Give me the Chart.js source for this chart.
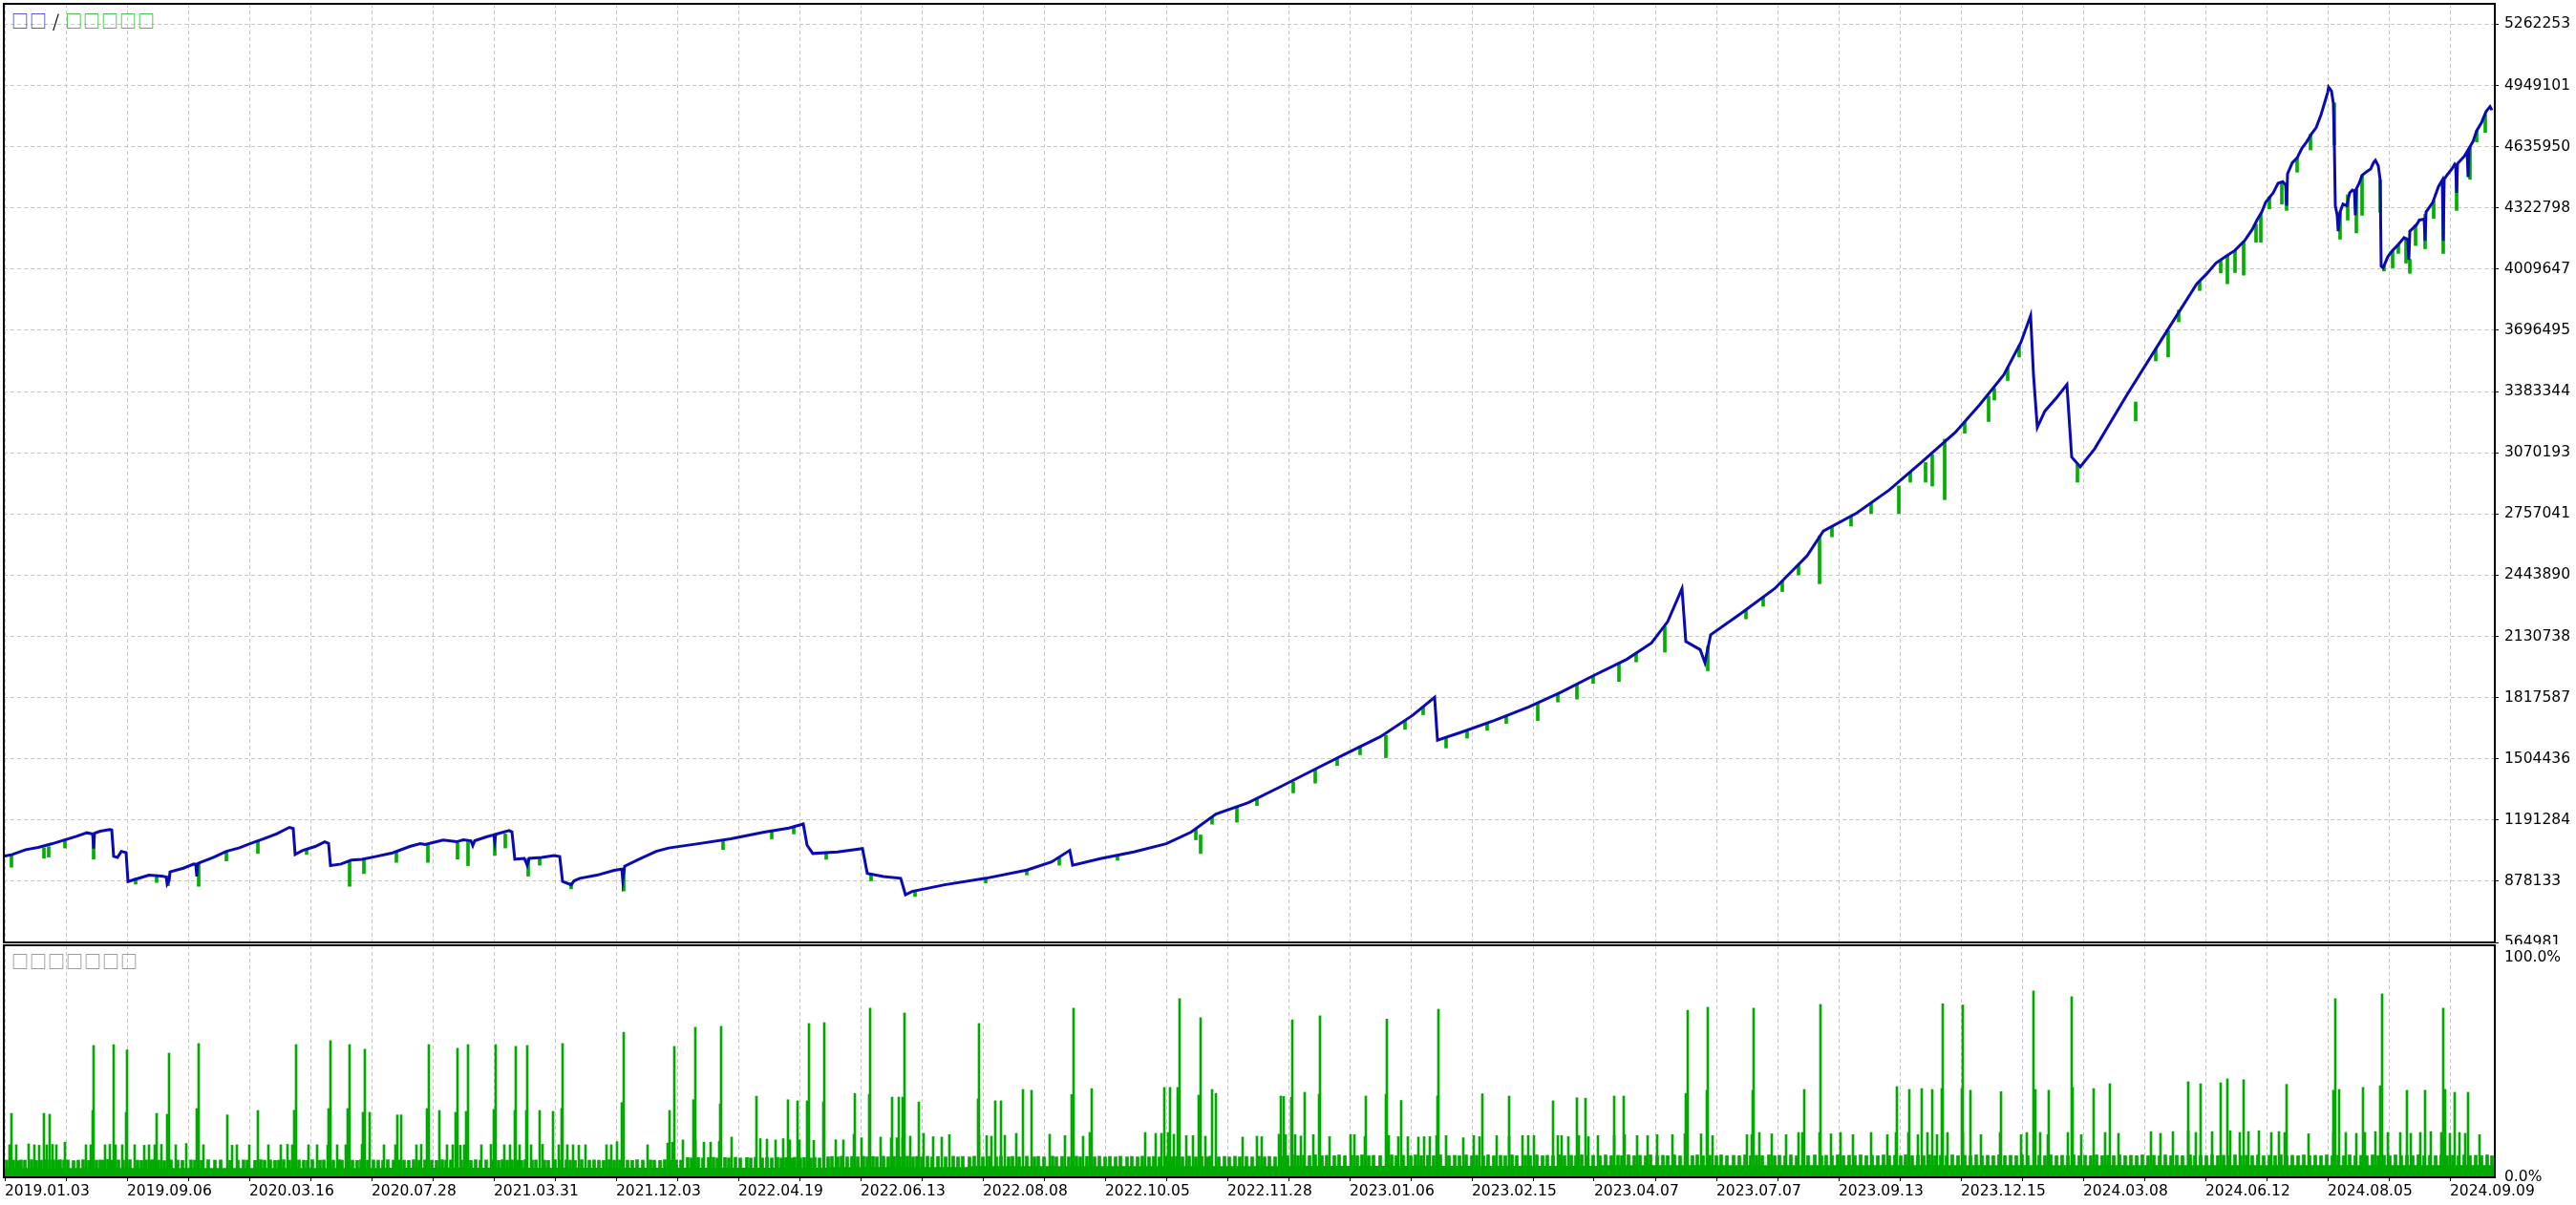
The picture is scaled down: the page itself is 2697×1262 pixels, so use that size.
<!DOCTYPE html>
<html><head><meta charset="utf-8">
<script src="https://cdn.jsdelivr.net/npm/chart.js@4.4.1/dist/chart.umd.min.js"></script>
<style>
html,body{margin:0;padding:0;background:#fff;overflow:hidden;width:2697px;height:1262px;}
canvas{position:absolute;left:0;}
#main{top:0;}
#sub{top:989px;}
.lg{position:absolute;font-family:"Noto Sans CJK SC";font-size:18px;line-height:18px;white-space:pre;letter-spacing:1px;}
</style></head><body>
<canvas id="main" width="2697" height="989"></canvas>
<canvas id="sub" width="2697" height="273"></canvas>
<div class="lg" style="left:12px;top:12px"><span style="color:#2424c8">□□</span><span style="color:#000"> / </span><span style="color:#14b414">□□□□□</span></div>
<div class="lg" style="left:12px;top:997px;color:#808080">□□□□□□□</div>
<script>
// ---------- axis labels ----------
const xLabels = ['2019.01.03','2019.09.06','2020.03.16','2020.07.28','2021.03.31','2021.12.03','2022.04.19','2022.06.13','2022.08.08','2022.10.05','2022.11.28','2023.01.06','2023.02.15','2023.04.07','2023.07.07','2023.09.13','2023.12.15','2024.03.08','2024.06.12','2024.08.05','2024.09.09'];
const xLabelPos = [0,128,256,384,512,640,768,896,1024,1152,1280,1408,1536,1664,1792,1920,2048,2176,2304,2432,2560];
const xGridPos = [0,64,128,192,256,320,384,448,512,576,640,704,768,832,896,960,1024,1088,1152,1216,1280,1344,1408,1472,1536,1600,1664,1728,1792,1856,1920,1984,2048,2112,2176,2240,2304,2368,2432,2496,2560];
const yTicks = [564981,878133,1191284,1504436,1817587,2130738,2443890,2757041,3070193,3383344,3696495,4009647,4322798,4635950,4949101,5262253];
const loadTicks = [0,100];

// ---------- balance (deal index, value) ----------
const balX = [-1,8,22,35,49,62,75,86,91,92,93,94,100,110,112,114,118,122,127,129,142,151,164,169,170,172,173,187,198,200,201,202,205,218,232,245,258,272,285,298,302,304,312,325,335,339,341,352,363,374,388,406,424,435,440,459,473,480,488,490,492,504,512,513,514,528,531,534,544,547,549,562,575,581,584,593,596,602,620,638,646,647,649,664,682,695,
726,760,795,821,836,840,846,872,898,903,920,938,943,950,984,1027,1070,1096,1115,1118,1147,1182,1216,1242,1268,1302,1337,1371,1405,1440,1474,1497,1500,1526,1560,1595,1629,1663,1698,1724,1741,1756,1760,1775,1780,1786,1818,1853,1887,1904,1939,1973,2007,2042,2068,2093,2111,2121,2124,2128,2136,2148,2159,2164,2173,2188,2222,2262,
2295,2305,2315,2325,2335,2345,2353,2358,2363,2367,2375,2380,2385,2388,2389,2390,2395,2400,2405,2410,2415,2420,2425,2428,2432,2433,2436,2438,2439,2440,2442,2443,2445,2448,2452,2455,2458,2460,2461,2462,2465,2468,2472,2477,2480,2482,2485,2487,2488,2490,2495,2500,2505,2512,2516,2517,2518,2525,2528,2533,2534,2535,2542,2545,2548,2552,2553,2554,2558,2562,2565,2566,2567,2568,2575,2578,2579,2580,2581,2584,2588,2593,2595,2598,2602,2604];
const balY = [1006000,1015000,1039600,1050900,1069000,1088500,1108000,1126000,1121000,1118000,1045000,1124000,1134000,1142000,1140000,1005000,1000000,1031000,1025000,876600,896000,909000,905000,900000,863000,880000,925600,945000,966000,964000,903000,968000,974500,999000,1031000,1048000,1072000,1097000,1121000,1153600,1148000,1015000,1036000,1055700,1080000,1072000,958000,966000,986000,990000,1003900,1023000,1055700,1070000,1066000,1088500,1080000,1090000,1085000,1060000,1085000,1104600,1115000,1080000,1118000,1137500,1130000,990700,995000,960000,995000,1000000,1010000,1005000,876600,860000,880000,892800,909000,933400,940000,884000,955000,990700,1031000,1048000,
1070000,1095000,1129000,1150000,1171000,1062000,1020000,1028000,1045000,918500,902000,893000,809000,826000,860000,893000,935000,977000,1036000,960000,994000,1028000,1070000,1129000,1222000,1280000,1365000,1449000,1533000,1617000,1727000,1819000,1600000,1642000,1701000,1769000,1844000,1929000,2013000,2097000,2206000,2375000,2105000,2063000,1996000,2139000,2249000,2375000,2543000,2670000,2762000,2880000,3023000,3174000,3318000,3469000,3637000,3772000,3469000,3200000,3284000,3351000,3419000,3048000,2998000,3090000,3368000,3680000,
3934800,3983700,4040600,4073300,4106000,4155000,4212000,4260700,4301700,4350700,4399600,4448500,4456700,4440000,4334000,4497500,4554500,4578900,4627800,4660500,4701300,4733900,4799200,4848000,4913600,4941000,4921300,4856200,4644300,4334000,4285000,4203700,4301700,4342300,4334000,4399600,4414000,4410000,4285000,4420000,4448500,4489300,4505600,4521900,4554500,4566000,4538300,4465000,4024300,4016100,4073300,4106000,4130400,4171000,4160000,4057000,4203700,4236300,4260700,4265000,4155000,4301700,4350700,4391400,4432000,4465000,4155000,4470000,4497500,4521900,4546400,4540000,4399600,4550000,4587000,4611500,4481000,4620000,4636700,4660500,4717600,4758200,4782700,4817000,4841000,4823000];

// ---------- equity dips below balance: [deal index, low, high] ----------
const equityDips = [[7,950000,1012000],[41,995600,1049000],[46,1002000,1055000],[63,1048000,1090000],[93,990700,1120000],[137,863000,893000],[159,871500,905000],[171,855000,905000],[203,852000,970000],[232,982000,1031000],[265,1020000,1085000],[316,1015000,1042000],[361,852000,975000],[376,917000,995000],[410,974500,1030000],[443,974500,1066000],[474,990700,1080000],[485,958000,1080000],[513,1010000,1115000],[524,1048000,1120000],[548,904000,995000],[560,960000,1000000],[593,839000,870000],[648,827700,940000],
[752,1040000,1090000],[803,1095000,1135000],[826,1120000,1155000],[860,990000,1025000],[907,880000,915000],[953,800000,828000],[1027,870000,893000],[1070,910000,935000],[1104,960000,1000000],[1165,985000,1011000],
[1247,1090000,1145000],[1252,1020000,1115000],[1264,1170000,1208000],[1290,1180000,1262000],[1311,1265000,1302000],[1349,1330000,1385000],[1372,1380000,1450000],[1395,1470000,1508000],[1419,1525000,1567000],[1446,1510000,1625000],[1466,1655000,1700000],[1485,1730000,1770000],[1509,1560000,1615000],[1531,1610000,1650000],[1552,1650000,1687000],[1572,1685000,1724000],[1605,1700000,1785000],[1626,1795000,1837000],[1646,1810000,1885000],[1663,1890000,1929000],[1690,1900000,1995000],[1708,2000000,2045000],[1738,2050000,2180000],[1783,1955000,2080000],[1823,2220000,2267000],[1841,2285000,2332000],[1861,2360000,2415000],[1878,2445000,2498000],[1900,2400000,2645000],[1913,2640000,2694000],[1933,2695000,2746000],[1954,2760000,2814000],[1983,2760000,2900000],[1995,2920000,2972000],[2011,2920000,3020000],[2018,2900000,3060000],[2031,2830000,3140000],[2052,3170000,3229000],[2077,3230000,3360000],[2083,3340000,3400000],[2097,3440000,3506000],[2109,3560000,3618000],[2170,2920000,3010000],[2231,3233000,3330000],[2252,3540000,3602000],[2265,3560000,3695000],[2276,3740000,3800000],[2298,3900000,3950000],[2320,3990000,4057000],
[2327,3934800,4080000],[2335,3991900,4106000],[2344,3978800,4150000],[2357,4147000,4240000],[2362,4147000,4290000],[2371,4318000,4380000],[2384,4342000,4450000],[2389,4310000,4440000],[2400,4505600,4578000],[2414,4619600,4700000],[2439,4644300,4860000],[2445,4163000,4300000],[2453,4260700,4390000],[2462,4195000,4420000],[2468,4285000,4489000],[2487,4300000,4465000],[2491,4000000,4030000],[2500,4016000,4106000],[2506,4089600,4135000],[2514,4040600,4171000],[2518,3988000,4060000],[2524,4130400,4236000],[2534,4114000,4290000],[2543,4269000,4360000],[2553,4089600,4300000],[2567,4310000,4540000],[2581,4468700,4636000],[2588,4660500,4717000],[2597,4709000,4800000]];

// ---------- deposit load (%) ----------
const loadBase = [[-1,4.2],[395,4.4],[862,4.7],[1008,5.1],[1340,5.2],[1668,5.5],[2607,5.5]];
const loadSpikes = [[7,29.1],[41,29.1],[47,28.7],[92,30.4],[93,60.0],[114,60.4],[127,29.6],[128,58.0],[159,29.1],[170,28.7],[172,56.5],[201,31.3],[203,60.9],[233,28.4],[265,30.4],[303,30.5],[305,60.4],[339,31.3],[341,62.2],[359,31.3],[361,60.4],[375,29.6],[377,58.3],[382,29.6],[411,28.4],[415,28.4],[442,31.3],[444,60.4],[455,30.4],[472,29.6],[474,58.7],[483,30.0],[485,60.4],[512,30.9],[514,60.4],[534,30.4],[535,59.6],[546,30.4],[547,60.0],[560,30.4],[574,30.0],[583,31.3],[584,60.9],[646,34.0],[648,66.0],[696,30.4],[701,59.6],[721,35.3],[723,68.3],[749,33.4],[750,68.7],[787,36.9],[820,35.3],[830,34.8],[840,34.8],[842,70.0],[857,34.3],[858,70.4],[890,38.2],[905,37.7],[906,77.0],[929,36.5],[936,36.5],[940,36.5],[942,74.8],[957,34.3],[1019,35.7],[1020,70.0],[1037,34.8],[1043,34.8],[1066,40.0],[1075,39.6],[1117,37.7],[1119,77.0],[1138,40.4],[1214,40.9],[1220,40.9],[1228,40.9],[1230,81.3],[1250,37.4],[1252,72.6],[1264,40.0],[1268,38.2],[1336,37.0],
[1339,36.8],[1347,36.4],[1348,71.7],[1361,38.7],[1376,37.8],[1377,73.5],[1425,37.0],[1446,37.8],[1447,72.0],[1462,35.0],[1500,37.0],[1501,76.5],[1547,38.0],[1575,37.0],[1621,34.8],[1646,36.2],[1655,36.0],[1685,37.0],[1695,37.0],[1760,38.2],[1762,76.0],[1782,39.6],[1783,77.4],[1830,39.6],[1831,77.0],[1884,40.0],[1901,78.7],[1981,41.3],[1994,40.0],[2007,40.4],[2018,40.0],[2028,40.4],[2029,79.0],[2049,40.4],[2050,78.4],[2058,39.6],[2090,39.0],[2124,84.8],[2126,40.0],[2140,39.6],[2164,82.2],[2165,40.9],[2187,40.4],[2204,42.6],[2286,43.5],[2299,42.6],[2320,43.0],[2327,44.8],[2344,44.4],[2389,42.3],[2438,39.6],[2440,81.3],[2444,40.0],[2469,40.9],[2487,41.7],[2489,83.5],[2515,39.6],[2534,39.6],[2553,77.0],[2555,40.0],[2565,38.7],[2579,38.7]];
const loadMedium = [[5,14.8],[12,14.8],[25,15.2],[31,14.8],[36,14.6],[44,14.8],[50,15.0],[54,14.8],[63,16.0],[85,14.8],[90,14.8],[105,14.8],[110,15.0],[116,14.8],[123,14.8],[136,14.8],[146,14.6],[151,14.8],[157,14.8],[164,15.0],[179,14.8],[190,15.4],[208,14.8],[238,14.6],[243,14.8],[256,14.8],[276,14.8],[289,14.8],[296,15.0],[301,14.8],[318,14.8],[327,14.8],[338,14.6],[348,14.8],[357,14.8],[374,15.0],[397,14.8],[409,14.8],[431,14.8],[436,15.0],[463,14.8],[469,14.8],[477,14.6],[481,14.8],[499,14.8],[509,15.0],[523,14.8],[529,14.8],[539,14.8],[551,14.8],[563,15.0],[580,14.8],[589,14.8],[595,14.8],[601,14.6],[608,14.8],[630,14.8],[635,14.8],[641,16.2],[673,14.8],[694,15.6],[699,16.0],[710,17.0],[723,17.0],[732,16.0],[739,16.0],[748,16.4],[761,18.3],[791,17.6],[798,17.4],[807,17.0],[815,17.6],[822,17.0],[832,17.0],[847,16.8],[870,17.1],[878,17.0],[889,19.6],[897,18.0],[917,18.3],[928,18.0],[934,18.0],[940,18.0],[948,18.7],[962,20.0],[972,18.5],[981,18.3],[989,19.4],[1020,19.0],[1028,19.0],[1033,18.7],[1047,19.1],[1059,20.0],[1094,19.6],[1110,19.0],[1129,18.7],[1136,20.4],[1194,20.4],[1205,20.0],[1211,20.0],[1218,20.4],[1224,19.6],[1237,19.0],[1244,19.0],[1257,18.7],[1296,18.3],[1311,18.7],[1316,18.5],[1334,19.6],
[1341,19.4],[1351,19.4],[1357,18.8],[1370,19.4],[1387,18.5],[1409,19.4],[1413,19.4],[1424,18.5],[1449,19.0],[1459,18.5],[1469,18.5],[1480,18.3],[1486,18.5],[1492,18.5],[1499,19.0],[1509,19.0],[1527,18.0],[1538,19.0],[1544,18.5],[1562,19.0],[1575,18.5],[1589,19.0],[1595,19.0],[1601,19.0],[1626,19.0],[1630,19.0],[1637,18.5],[1648,19.0],[1658,18.5],[1668,19.0],[1685,19.0],[1696,19.4],[1709,19.0],[1720,19.0],[1730,19.4],[1746,19.4],[1759,19.8],[1776,19.8],[1788,19.0],[1824,19.4],[1829,19.4],[1837,20.4],[1850,19.8],[1865,19.4],[1878,20.4],[1882,20.4],[1900,20.4],[1912,19.8],[1922,20.4],[1935,19.4],[1954,20.4],[1971,19.4],[1980,20.4],[1993,20.4],[2003,19.4],[2013,20.4],[2023,19.4],[2034,20.4],[2050,20.4],[2069,19.4],[2089,20.4],[2111,19.4],[2117,20.4],[2131,20.4],[2139,19.4],[2160,20.4],[2174,19.4],[2199,20.4],[2213,20.0],[2247,20.8],[2257,20.0],[2270,20.8],[2286,21.2],[2294,20.4],[2311,20.8],[2330,21.2],[2340,20.4],[2349,20.8],[2360,21.2],[2373,20.4],[2381,20.8],[2387,20.4],[2412,19.8],[2438,20.4],[2451,20.4],[2462,20.0],[2471,20.4],[2482,20.8],[2495,20.4],[2508,20.4],[2519,20.0],[2529,20.4],[2540,20.8],[2551,20.4],[2560,20.0],[2570,20.4],[2576,20.0],[2591,19.4]];
const loadSmall = [[2,7.8],[6,8.1],[9,7.8],[14,7.6],[17,7.9],[21,7.8],[28,8.0],[33,7.7],[38,7.8],[43,8.0],[47,7.8],[51,7.9],[55,7.7],[58,8.0],[62,7.8],[66,7.9],[72,7.6],[77,7.8],[82,8.0],[88,7.7],[96,7.8],[100,7.9],[103,7.8],[108,8.1],[112,7.8],[115,7.7],[119,7.9],[124,7.8],[131,8.0],[139,7.8],[143,7.7],[148,7.9],[152,7.8],[155,8.0],[161,7.8],[167,7.6],[174,7.9],[181,7.8],[186,7.7],[195,7.9],[199,7.8],[206,7.7],[213,8.0],[220,7.8],[226,7.9],[236,7.7],[244,7.8],[250,7.9],[254,7.8],[262,7.7],[268,8.0],[272,7.8],[278,7.9],[283,7.7],[287,7.8],[292,8.0],[298,7.8],[308,7.9],[313,7.8],[317,7.7],[322,8.0],[330,7.8],[334,7.9],[340,7.7],[344,7.8],[350,8.0],[353,7.8],[359,7.9],[364,7.8],[369,7.7],[373,8.0],[380,7.8],[386,7.9],[391,7.8],[396,7.7],[401,8.0],[407,7.8],[413,7.9],[418,7.8],[423,7.7],[428,8.0],[434,7.8],[440,7.9],[447,7.8],[452,7.7],[458,8.0],[462,7.8],[467,7.9],[478,7.8],[488,7.7],[493,8.0],[498,7.8],[504,7.9],[511,7.8],[517,7.7],[521,8.0],[526,7.8],[531,7.9],[537,7.8],[541,7.7],[545,8.0],[552,7.8],[556,7.9],[565,7.8],[569,7.7],[576,8.0],[583,7.8],[588,7.9],[592,7.8],[597,7.7],[604,8.0],[612,7.8],[617,7.9],[622,7.8],[627,7.7],[633,8.0],[638,7.8],[644,7.9],[652,7.8],[657,7.7],[662,8.0],[668,7.8],[676,7.9],[680,7.8],[686,7.7],[691,8.0],[697,7.8],[703,7.9],[708,7.8],[715,9.0],[719,8.8],[726,9.0],[731,8.8],[737,9.0],[742,9.1],[746,8.8],[754,9.0],[758,8.8],[765,9.1],[770,8.8],[777,9.0],[781,8.8],[786,9.1],[793,8.8],[798,9.0],[803,8.8],[809,9.1],[813,8.8],[818,9.0],[824,8.8],[827,9.1],[833,8.8],[837,9.0],[844,8.8],[848,9.1],[853,8.8],
[862,9.3],[866,9.5],[872,9.3],[876,9.6],[882,9.3],[887,9.5],[893,9.3],[899,9.6],[903,9.3],[909,9.5],[913,9.3],[920,9.6],[925,9.3],[931,9.5],[937,9.3],[945,9.6],[951,9.3],[955,9.5],[960,9.3],[966,9.6],[971,9.3],[977,9.5],[985,9.3],[993,9.6],[998,9.3],[1003,9.5],[1010,9.3],[1015,9.6],[1024,9.3],[1031,9.5],[1038,9.3],[1043,9.6],[1051,9.3],[1055,9.5],[1062,9.3],[1070,9.6],[1078,9.3],[1082,9.5],[1088,9.3],[1097,9.6],[1101,9.3],[1107,9.5],[1114,9.3],[1122,9.6],[1126,9.3],[1133,9.5],[1141,9.3],[1146,9.6],[1152,9.3],[1157,9.5],[1163,9.3],[1168,9.6],[1175,9.3],[1180,9.5],[1186,9.3],[1191,9.6],[1198,9.3],[1203,9.5],[1209,9.3],[1216,9.6],[1222,9.3],[1227,9.5],[1233,9.3],[1240,9.6],[1247,9.3],[1253,9.5],[1259,9.3],[1262,9.6],[1271,9.3],[1277,9.5],[1282,9.3],[1288,9.6],[1293,9.3],[1300,9.5],[1306,9.3],[1313,9.6],[1319,9.3],[1324,9.5],[1330,9.3],[1338,9.6],
[1343,9.8],[1348,10.2],[1354,9.8],[1360,10.0],[1366,9.8],[1372,10.2],[1379,9.8],[1384,10.0],[1392,9.8],[1397,10.2],[1403,9.8],[1410,10.0],[1416,9.8],[1421,10.2],[1428,9.8],[1433,10.0],[1440,9.8],[1452,10.2],[1457,9.8],[1464,10.0],[1472,9.8],[1477,10.2],[1483,9.8],[1490,10.0],[1496,9.8],[1503,10.2],[1512,9.8],[1518,10.0],[1523,9.8],[1530,10.2],[1536,9.8],[1541,10.0],[1548,9.8],[1553,10.2],[1559,9.8],[1566,10.0],[1571,9.8],[1578,10.2],[1583,9.8],[1592,10.0],[1597,9.8],[1604,10.2],[1610,9.8],[1615,10.0],[1621,9.8],[1628,10.2],[1633,9.8],[1640,10.0],[1645,9.8],[1651,10.2],[1657,9.8],[1663,10.0],[1670,9.8],[1676,10.2],[1682,9.8],[1689,10.0],[1693,9.8],[1700,10.2],[1706,9.8],[1712,10.0],[1718,9.8],[1723,10.2],[1730,9.8],[1736,10.0],[1741,9.8],[1748,10.2],[1754,9.8],[1760,10.0],[1767,9.8],[1772,10.2],[1778,9.8],[1785,10.0],[1792,9.8],[1797,10.2],[1803,9.8],[1810,10.0],[1816,9.8],[1822,10.2],[1828,9.8],[1834,10.0],[1840,9.8],[1847,10.2],[1853,9.8],[1858,10.0],[1864,9.8],[1870,10.2],[1876,9.8],[1883,10.0],[1888,9.8],[1895,10.2],[1902,9.8],[1907,10.0],[1913,9.8],[1919,10.2],[1925,9.8],[1931,10.0],[1937,9.8],[1943,10.2],[1949,9.8],[1955,10.0],[1961,9.8],[1967,10.2],[1973,9.8],[1979,10.0],[1985,9.8],[1990,10.2],[1997,9.8],[2003,10.0],[2009,9.8],[2015,10.2],[2021,9.8],[2027,10.0],[2033,9.8],[2039,10.2],[2045,9.8],[2052,10.0],[2058,9.8],[2064,10.2],[2070,9.8],[2076,10.0],[2082,9.8],[2088,10.2],[2094,9.8],[2100,10.0],[2106,9.8],[2112,10.2],[2118,9.8],[2130,10.0],[2136,9.8],[2142,10.2],[2148,9.8],[2154,10.0],[2160,9.8],[2166,10.2],[2172,9.8],[2178,10.0],[2184,9.8],[2190,10.2],[2196,9.8],[2202,10.0],[2208,9.8],[2214,10.2],[2220,9.8],[2226,10.0],[2232,9.8],[2238,10.2],[2244,9.8],[2250,10.0],[2256,9.8],[2262,10.2],[2268,9.8],[2274,10.0],[2280,9.8],[2288,10.2],[2293,9.8],[2299,10.0],[2305,9.8],[2311,10.2],[2317,9.8],[2323,10.0],[2329,9.8],[2335,10.2],[2341,9.8],[2347,10.0],[2353,9.8],[2359,10.2],[2365,9.8],[2371,10.0],[2377,9.8],[2383,10.2],[2389,9.8],[2395,10.0],[2401,9.8],[2407,10.2],[2413,9.8],[2419,10.0],[2425,9.8],[2431,10.2],[2437,9.8],[2443,10.0],[2449,9.8],[2455,10.2],[2461,9.8],[2467,10.0],[2473,9.8],[2479,10.2],[2485,9.8],[2491,10.0],[2497,9.8],[2503,10.2],[2509,9.8],[2515,10.0],[2521,9.8],[2527,10.2],[2533,9.8],[2539,10.0],[2545,9.8],[2551,10.2],[2557,9.8],[2563,10.0],[2569,9.8],[2575,10.2],[2581,9.8],[2587,10.0],[2593,9.8],[2599,10.2],[2604,9.8]];

// ---------- styling ----------
const FONT = {family:'DejaVu Sans', size:15.5};
const GRID = '#c8c8c8';
const BLUE = '#0a0ab4';
const GREEN = '#00b000';
const LOADGREEN = '#00aa00';

const frame = {
  id:'frame',
  afterDraw(chart){
    const a = chart.chartArea, c = chart.ctx;
    c.save(); c.strokeStyle='#000'; c.lineWidth=2;
    c.strokeRect(a.left, a.top, a.right-a.left, a.bottom-a.top);
    c.restore();
  }
};

const pts = (xs, ys) => xs.map((x,i)=>({x:x, y:ys[i]}));
const pairs = arr => arr.map(p=>({x:p[0], y:p[1]}));

new Chart(document.getElementById('main'), {
  type:'line',
  data:{datasets:[
    {type:'bar', data: equityDips.map(d=>({x:d[0], y:[d[1], d[2]]})), backgroundColor:GREEN, barThickness:3, order:2},
    {type:'line', data: pts(balX, balY), borderColor:BLUE, borderWidth:3, pointRadius:0, tension:0, fill:false, order:1}
  ]},
  options:{
    responsive:false, animation:false, devicePixelRatio:1,
    layout:{padding:{left:4, top:4, right:0, bottom:2}},
    plugins:{legend:{display:false}, tooltip:{enabled:false}},
    scales:{
      x:{type:'linear', bounds:'data', offset:false, min:-1, max:2607,
         afterBuildTicks:s=>{s.ticks = xGridPos.map(v=>({value:v}));},
         ticks:{display:false},
         grid:{color:GRID, drawTicks:false, lineWidth:1, offset:false},
         border:{display:false, dash:[4,3]},
         afterFit:s=>{s.height=0; s.paddingLeft=0; s.paddingRight=0;}},
      y:{type:'linear', position:'right', bounds:'data', min:564981, max:5367000,
         afterBuildTicks:s=>{s.ticks = yTicks.map(v=>({value:v}));},
         ticks:{color:'#000', font:FONT, padding:6, callback:v=>String(v)},
         grid:{color:GRID, tickColor:'#000', tickLength:4, tickBorderDash:[], lineWidth:1},
         border:{display:false, dash:[4,3]},
         afterFit:s=>{s.width=85; s.paddingTop=0; s.paddingBottom=0;}}
    }
  },
  plugins:[frame]
});

new Chart(document.getElementById('sub'), {
  type:'bar',
  data:{datasets:[
    {type:'line', data: pairs(loadBase), stepped:true, fill:'origin', backgroundColor:LOADGREEN, borderWidth:0, pointRadius:0, order:3},
    {type:'bar', data: pairs(loadSmall), backgroundColor:LOADGREEN, barThickness:3, grouped:false, order:2},
    {type:'bar', data: pairs(loadMedium), backgroundColor:LOADGREEN, barThickness:2, grouped:false, order:1},
    {type:'bar', data: pairs(loadSpikes), backgroundColor:LOADGREEN, barThickness:2, grouped:false, order:0}
  ]},
  options:{
    responsive:false, animation:false, devicePixelRatio:1,
    layout:{padding:{left:4, top:1, right:0, bottom:0}},
    plugins:{legend:{display:false}, tooltip:{enabled:false}},
    scales:{
      x:{type:'linear', bounds:'data', offset:false, min:-1, max:2607,
         afterBuildTicks:s=>{s.ticks = xGridPos.map(v=>({value:v}));},
         ticks:{autoSkip:false, maxRotation:0, minRotation:0, align:'start', color:'#000', font:FONT, padding:2,
                callback:v=>{const i = xLabelPos.indexOf(v); return i>=0 ? xLabels[i] : '';}},
         grid:{color:GRID, tickColor:'#000', tickLength:4, tickBorderDash:[], lineWidth:1, offset:false},
         border:{display:false, dash:[4,3]},
         afterFit:s=>{s.height=29; s.paddingLeft=0; s.paddingRight=0;}},
      y:{type:'linear', position:'right', bounds:'data', min:0, max:105.6,
         afterBuildTicks:s=>{s.ticks = loadTicks.map(v=>({value:v}));},
         ticks:{color:'#000', font:FONT, padding:10, callback:v=>v.toFixed(1)+'%'},
         grid:{drawOnChartArea:false, drawTicks:false},
         border:{display:false},
         afterFit:s=>{s.width=85; s.paddingTop=0; s.paddingBottom=0;}}
    }
  },
  plugins:[frame]
});
</script>
</body></html>
